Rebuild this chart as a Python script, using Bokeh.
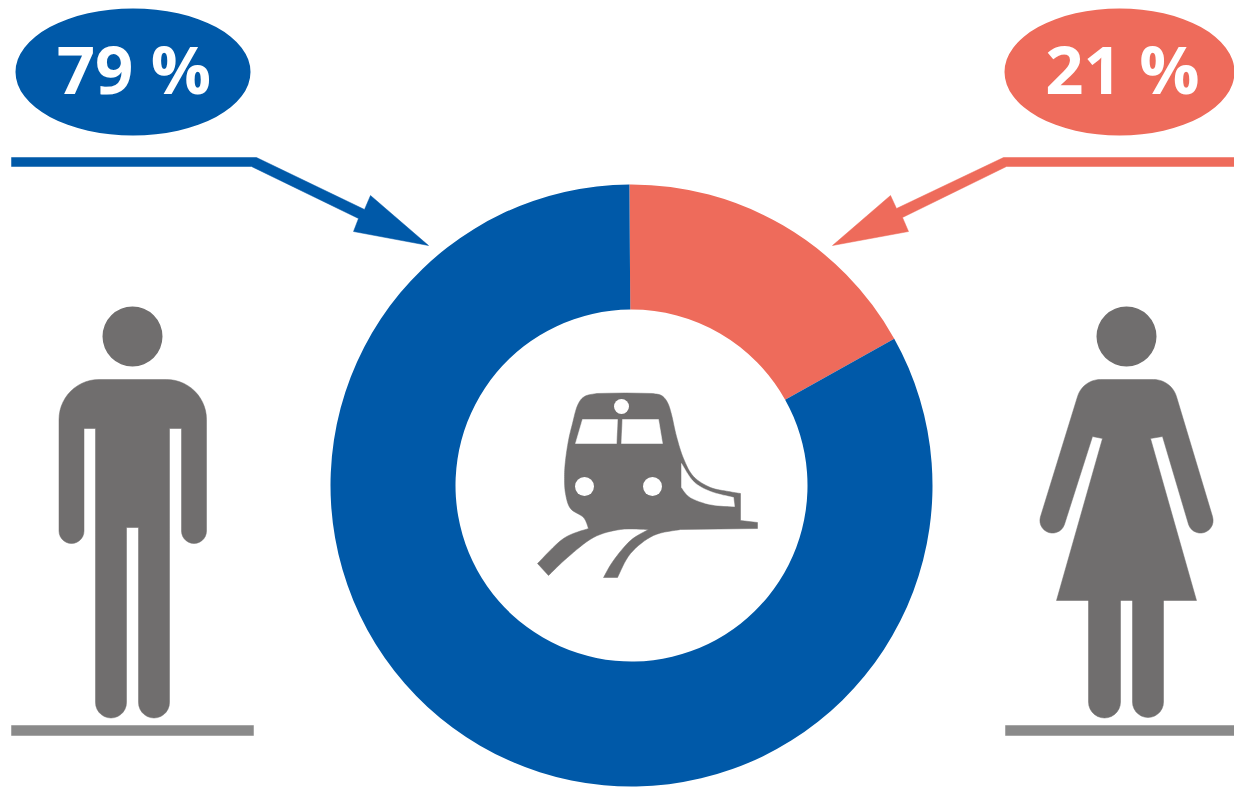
import math
from bokeh.plotting import figure
from bokeh.models import Range1d
from bokeh.core.properties import value
from bokeh.embed import file_html
from bokeh.resources import INLINE

# ---- chart data ----
categories = ["men", "women"]
label_values = [79, 21]
label_suffix = " %"
# the ring in the picture is drawn with this split
ring_shares = [83.0, 17.0]

BLUE = "#0059a8"
RED = "#ee6b5b"
GRAY = "#706e6e"
BASE = "#8a8a8a"

W, H = 1234, 787
p = figure(width=W, height=H, x_range=Range1d(0, 1234), y_range=Range1d(0, 787),
           x_axis_type=None, y_axis_type=None, toolbar_location=None,
           output_backend="svg", min_border=0, outline_line_color=None,
           background_fill_color="white", border_fill_color="white")
p.grid.visible = False


def Y(y):
    return 787 - y


def poly(points, color):
    p.patch([q[0] for q in points], [Y(q[1]) for q in points],
            fill_color=color, line_color=color, line_width=0.5)


def dot(cx, cy, w, h, color):
    p.ellipse(x=[cx], y=[Y(cy)], width=w, height=h, fill_color=color, line_color=None)


def arc(cx, cy, r, a0, a1, n=14):
    """Image-space arc; angles in degrees, 0 = right, 90 = down."""
    return [(cx + r * math.cos(math.radians(a0 + (a1 - a0) * i / n)),
             cy + r * math.sin(math.radians(a0 + (a1 - a0) * i / n))) for i in range(n + 1)]


def smooth(pts, n=8):
    """Catmull-Rom through the outline points."""
    out = []
    P = [pts[0]] + list(pts) + [pts[-1]]
    for i in range(1, len(P) - 2):
        p0, p1, p2, p3 = P[i - 1], P[i], P[i + 1], P[i + 2]
        for k in range(n):
            t = k / n
            out.append(tuple(
                0.5 * (2 * p1[d] + (p2[d] - p0[d]) * t
                       + (2 * p0[d] - 5 * p1[d] + 4 * p2[d] - p3[d]) * t * t
                       + (3 * p1[d] - p0[d] - 3 * p2[d] + p3[d]) * t ** 3)
                for d in (0, 1)))
    out.append(pts[-1])
    return out


# ---- ring ----
CX, CY, R_OUT, R_IN = 631, 485, 301, 176
total = sum(ring_shares)
red_start = math.pi / 2 + 0.007
red_end = red_start - 2 * math.pi * ring_shares[1] / total
p.annular_wedge(x=[CX, CX], y=[Y(CY), Y(CY)], inner_radius=R_IN, outer_radius=R_OUT,
                start_angle=[red_start, red_end], end_angle=[red_end, red_start],
                direction="clock", fill_color=[RED, BLUE], line_color=None)

# ---- label ovals ----
dot(132.5, 71.5, 235, 127, BLUE)
dot(1119, 71.5, 230, 127, RED)
label_text = [f"{v}{label_suffix}" for v in label_values]
p.text(x=[133.5, 1122], y=[Y(67), Y(67)], text=label_text, text_color="white",
       text_font=value("Open Sans"), text_font_style="bold", text_font_size="67px",
       text_align="center", text_baseline="middle")

# ---- arrows ----
poly([(11, 157), (256, 157), (364, 209), (370, 195), (428, 245), (353, 231), (358, 218),
      (251, 166), (11, 166)], BLUE)
poly([(1234, 157), (1003, 157), (896, 208), (890, 195), (832, 245), (908, 231), (902, 217),
      (1006, 166), (1234, 166)], RED)

# ---- base lines ----
poly([(11, 725), (253, 725), (253, 735), (11, 735)], BASE)
poly([(1005, 725), (1234, 725), (1234, 735), (1005, 735)], BASE)

# ---- man ----
dot(132, 336, 60, 60, GRAY)
man = (arc(98.5, 419, 40, 180, 270) + arc(166, 419, 40, 270, 360)
       + arc(193.5, 530.5, 12.5, 0, 180)
       + [(181, 428), (169, 428)]
       + arc(153.5, 702, 15.5, 0, 180)
       + [(138, 527), (126, 527)]
       + arc(110.5, 702, 15.5, 0, 180)
       + [(95, 428), (83.5, 428)]
       + arc(71, 530.5, 12.5, 0, 180))
poly(man, GRAY)

# ---- woman ----
dot(1126, 336, 60, 60, GRAY)
woman = (arc(1100, 403, 24, 197, 270) + arc(1153, 403, 24, 270, 343)
         + [(1212, 516)] + arc(1200, 520, 12.6, -16, 160)
         + [(1162, 436), (1150, 438), (1196, 600), (1056, 600), (1102, 438), (1092, 436)]
         + arc(1052, 520, 12.6, 20, 196))
poly(woman, GRAY)
poly([(1088, 595), (1120, 595)] + arc(1104, 701.5, 16, 0, 180), GRAY)
poly([(1132, 595), (1163, 595)] + arc(1147.5, 701.5, 15.5, 0, 180), GRAY)

# ---- train ----
train = (smooth([(596, 393), (625, 392.5), (652, 393)], 2)
         + smooth([(652, 393), (661, 395), (667, 402), (671, 414), (676, 436), (683, 458),
                   (693, 476), (710, 487), (728, 491), (740, 493)])
         + [(740, 520), (757, 522), (757, 528), (680, 529)]
         + smooth([(680, 529), (653, 535), (630, 553), (617, 577)])
         + [(603, 577)]
         + smooth([(603, 577), (613, 560), (630, 540), (648, 529)])
         + smooth([(648, 529), (620, 529), (593, 537), (567, 557), (548, 575)])
         + [(537, 563)]
         + smooth([(537, 563), (563, 538), (588, 528)])
         + smooth([(588, 528), (583, 517), (570, 508), (565, 493), (564, 476), (565, 460),
                   (568, 440), (572, 423), (577, 405), (584, 396), (596, 393)]))
poly(train, GRAY)
poly([(582, 419), (617, 419), (616, 443), (575, 443)], "white")
poly([(622, 419), (658, 419), (662, 443), (621, 443)], "white")
dot(621, 406, 15, 15, "white")
dot(584, 486, 19, 19, "white")
dot(652, 486, 19, 19, "white")
nose = (smooth([(681, 463), (693, 481), (710, 491), (733, 497)])
        + [(734, 506)]
        + smooth([(734, 506), (710, 504), (690, 497), (681, 487)]))
poly(nose, "white")

open("out.html", "w").write(file_html(p, INLINE))
